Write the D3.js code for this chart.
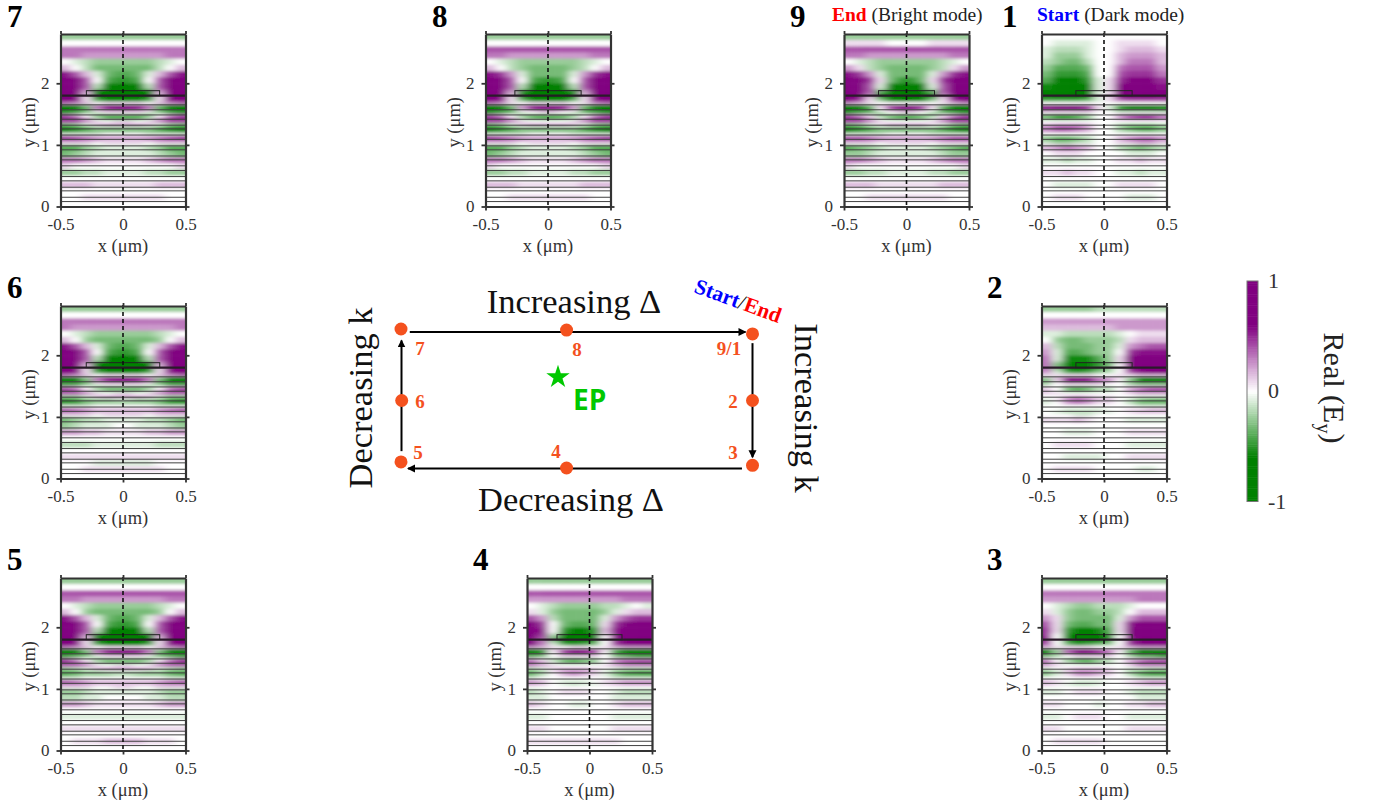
<!DOCTYPE html>
<html>
<head>
<meta charset="utf-8">
<script src="https://cdn.jsdelivr.net/npm/d3@7"></script>
<style>
	body { margin: 0; background: #fff; }
	text { font-family: "Liberation Serif", serif; }
</style>
</head>
<body>
<div id="chart"></div>
<script>
// band edges in y (um), shared by all the field maps
const yEdges = [2.8,2.7,2.6,2.5,2.4,2.3,2.2,2.1,2.0,1.9,1.85,1.8,1.75,1.7,1.65,1.6,1.55,1.5,1.45,1.4,1.35,1.3,1.25,1.2,1.15,1.1,1.05,1.0,0.9,0.8,0.7,0.6,0.5,0.4,0.3,0.2,0.1,0];
const layerLines = [0.08,0.15,0.254,0.313,0.416,0.486,0.584,0.66,0.757,0.82,0.92,0.984,1.09,1.16,1.26,1.32,1.416,1.486,1.57,1.65];
const activeLayer = 1.8;
const gratingTop = 1.88;
const xTicks = [-0.5,0,0.5];
const yTicks = [0,1,2];
const colorTicks = [1,0,-1];

// Real(Ey) in tenths, rows top to bottom, columns from x=0 out to the edge
const field7 = [[-3,-3,-3,-3,-3,-3],[0,0,0,0,0,0],[4,4,4,4,4,4],[3,3,3,3,4,4],[-3,-3,-3,-2,-1,0],[-4,-4,-4,-2,0,2],[-5,-4,-1,2,5,7],[-6,-5,0,5,9,10],[-9,-8,-2,5,9,10],
	[-10,-10,-7,3,10,10],[-10,-10,-8,2,10,10],[-10,-10,-8,1,9,10],[-7,-7,-5,1,8,9],[1,1,0,2,3,4],[8,8,5,-4,-9,-10],[7,6,3,-5,-9,-10],[1,1,-1,-3,-5,-6],[-5,-5,-4,0,3,5],[-5,-5,-2,3,7,8],[1,0,1,3,5,5],[3,3,2,-1,-3,-4],[-3,-3,-3,-5,-7,-8],[-4,-4,-4,-5,-6,-7],[0,0,-1,-1,-1,-1],[3,3,3,4,5,6],[2,2,3,4,5,5],[1,1,0,1,1,1],
	[-1,-1,-2,-3,-5,-5],[-1,-1,-1,-2,-3,-4],[1,1,2,3,4,4],[0,0,0,0,0,1],[-1,-1,-2,-2,-3,-3],[0,0,0,0,0,0],[1,1,1,2,2,2],[0,0,0,0,0,0],[1,1,1,1,0,0],[0,0,0,0,0,0]];
const field8 = [[-3,-3,-3,-3,-3,-3],[0,0,0,0,0,0],[5,5,5,5,5,5],[3,3,3,3,4,4],[-3,-3,-3,-2,-1,0],[-4,-4,-3,-2,0,2],[-4,-4,-1,3,6,7],[-6,-5,0,5,9,10],[-9,-8,-2,5,9,10],
	[-10,-10,-6,3,9,10],[-10,-10,-7,2,9,10],[-10,-10,-7,1,8,10],[-7,-7,-4,1,7,9],[1,1,0,1,3,4],[8,7,4,-4,-9,-10],[7,6,2,-5,-9,-10],[1,0,-1,-4,-5,-6],[-5,-5,-3,0,3,5],[-5,-4,-2,3,7,8],[0,0,1,3,5,5],[3,3,2,-1,-3,-4],[-3,-3,-3,-5,-7,-8],[-4,-4,-4,-5,-6,-7],[0,0,-1,-1,-1,-1],[3,3,3,4,5,6],[2,2,3,4,5,5],[1,1,0,1,1,1],
	[-1,-1,-2,-3,-5,-5],[-1,-1,-1,-2,-3,-4],[1,1,2,3,4,4],[0,0,0,0,0,1],[-1,-1,-2,-2,-3,-3],[0,0,0,0,0,0],[1,1,1,2,2,2],[0,0,0,0,0,0],[1,1,1,1,0,0],[0,0,0,0,0,0]];
const field9 = [[-3,-3,-3,-3,-3,-3],[0,0,1,1,1,1],[5,5,5,5,5,5],[3,3,3,3,4,4],[-3,-3,-3,-2,-1,0],[-4,-4,-3,-2,1,3],[-4,-4,-1,3,6,7],[-6,-4,1,6,9,10],[-9,-8,-1,5,9,10],
	[-10,-10,-4,5,9,10],[-10,-10,-6,4,9,10],[-10,-10,-6,2,8,10],[-8,-7,-3,1,6,8],[0,0,0,1,2,3],[8,6,2,-4,-8,-9],[7,5,0,-6,-9,-10],[1,0,-2,-4,-5,-6],[-5,-4,-3,1,3,5],[-5,-4,-1,3,7,8],[0,0,1,3,5,5],[3,3,1,-1,-3,-4],[-3,-3,-3,-5,-7,-8],[-4,-4,-4,-5,-6,-7],[0,0,-1,-1,-1,-1],[3,3,3,4,5,5],[2,2,3,4,5,5],[1,1,0,1,1,1],
	[-1,-1,-2,-3,-4,-5],[-1,-1,-1,-2,-3,-3],[1,1,2,3,4,4],[0,0,0,0,0,1],[-1,-1,-2,-2,-3,-3],[0,0,0,0,0,0],[1,1,1,2,2,2],[0,0,0,0,0,0],[1,1,1,1,0,0],[0,0,0,0,0,0]];
const field6 = [[-3,-3,-3,-3,-3,-3],[0,0,0,0,0,0],[4,4,4,4,4,4],[3,3,3,3,3,4],[-3,-3,-3,-2,-1,0],[-4,-4,-4,-3,0,2],[-5,-4,-1,2,5,7],[-6,-5,0,5,8,10],[-9,-8,-2,5,9,10],
	[-10,-10,-7,3,9,10],[-10,-10,-8,2,9,10],[-10,-10,-8,1,8,10],[-7,-7,-5,1,7,9],[1,1,0,2,3,4],[8,8,5,-3,-8,-9],[7,6,3,-5,-9,-10],[1,1,-1,-3,-5,-5],[-4,-4,-3,0,3,4],[-4,-4,-2,2,6,7],[1,0,1,3,4,4],[3,3,2,-1,-3,-3],[-2,-3,-3,-4,-6,-7],[-3,-3,-3,-4,-6,-6],[0,0,0,-1,-1,-1],[2,2,2,3,4,5],[2,2,2,3,4,4],[1,1,0,1,1,1],
	[-1,-1,-2,-2,-3,-4],[0,-1,-1,-1,-2,-3],[1,1,2,2,3,3],[0,0,0,0,0,0],[-1,-1,-1,-2,-2,-2],[0,0,0,0,0,0],[1,1,1,1,1,1],[-1,-1,-1,0,0,0],[1,1,1,1,0,0],[0,0,0,0,0,0]];
const field5 = [[-3,-3,-3,-3,-3,-3],[0,0,0,0,0,0],[5,5,5,5,5,5],[3,3,3,3,4,4],[-3,-3,-3,-2,-1,0],[-4,-4,-4,-3,0,2],[-5,-4,-1,2,5,7],[-6,-5,0,5,9,10],[-9,-8,-2,5,9,10],
	[-10,-10,-7,3,9,10],[-10,-10,-8,2,9,10],[-10,-10,-8,1,8,10],[-7,-7,-5,1,7,9],[1,1,0,2,3,4],[8,8,5,-3,-8,-10],[7,6,3,-5,-9,-10],[1,1,-1,-3,-4,-5],[-4,-4,-3,0,3,5],[-4,-4,-2,3,6,8],[1,0,1,3,4,4],[3,3,2,-1,-2,-3],[-2,-2,-3,-3,-5,-5],[-2,-3,-3,-3,-4,-5],[0,0,0,0,-1,-1],[2,2,2,3,4,5],[2,2,2,3,4,4],[1,0,0,1,1,1],
	[-1,-1,-1,-2,-3,-3],[0,0,-1,-1,-2,-2],[1,1,1,2,3,3],[0,0,0,0,0,0],[-1,-1,-1,-1,-1,-1],[0,0,0,0,0,0],[1,1,1,1,1,1],[0,0,0,0,0,0],[2,2,1,1,1,0],[0,0,0,0,0,0]];
const field4Left = [[-3,-3,-3,-3,-3,-3],[0,0,0,0,0,0],[5,5,5,5,5,5],[3,3,3,3,3,3],[-3,-3,-3,-2,-1,0],[-4,-4,-4,-3,-1,1],[-4,-4,-4,-2,3,5],[-5,-5,-4,0,6,8],[-8,-8,-6,0,7,8],
	[-9,-10,-9,-2,6,9],[-10,-10,-10,-4,5,9],[-9,-9,-8,-3,4,8],[-5,-6,-5,-1,4,8],[1,1,0,1,2,3],[7,8,6,1,-6,-9],[7,8,5,0,-7,-10],[1,1,1,0,-3,-4],[-4,-5,-4,-2,1,3],[-4,-5,-4,-1,3,6],[0,0,0,1,2,3],[2,2,2,1,-1,-2],[3,4,3,1,-3,-5],[2,3,2,0,-2,-4],[0,0,0,0,0,-1],[-1,-1,-1,0,2,3],[-1,-2,-1,0,2,3],[0,0,0,0,0,0],
	[1,1,1,0,-1,-2],[0,0,0,0,-1,-1],[-1,-1,0,0,1,2],[0,0,0,0,0,0],[0,0,0,0,-1,-1],[0,0,0,0,0,0],[0,0,0,0,1,1],[0,0,0,0,0,0],[1,1,1,1,1,1],[0,0,0,0,0,0]];
const field4Right = [[-3,-3,-3,-3,-3,-3],[0,0,0,0,0,0],[5,5,5,5,5,5],[3,3,3,4,4,4],[-3,-2,-2,-1,0,-1],[-4,-3,-1,1,2,2],[-4,-1,3,5,6,6],[-4,1,6,8,8,8],[-6,2,7,9,9,9],
	[-7,1,7,9,10,10],[-8,0,7,9,10,10],[-6,0,6,9,10,10],[-4,0,6,9,9,9],[0,1,2,3,3,3],[6,1,-5,-8,-9,-9],[5,0,-6,-9,-10,-10],[1,0,-3,-4,-5,-5],[-3,0,3,4,4,4],[-3,0,4,6,7,7],[0,1,2,3,3,3],[1,0,-1,-2,-2,-2],[2,-1,-4,-5,-6,-6],[1,-1,-3,-5,-5,-5],[0,0,-1,-1,-1,-1],[0,1,2,3,3,3],[-1,1,2,3,3,3],[0,0,0,0,0,0],
	[0,0,-1,-2,-2,-2],[0,0,-1,-1,-1,-1],[0,0,1,2,2,2],[0,0,0,0,0,0],[0,0,-1,-1,-1,-1],[0,0,0,0,0,0],[0,0,1,1,1,1],[0,0,0,0,0,0],[1,1,1,0,0,0],[0,0,0,0,0,0]];
const field3Left = [[-3,-3,-3,-3,-3,-3],[0,0,0,0,0,0],[4,4,4,4,4,4],[3,3,3,3,3,3],[-2,-3,-3,-2,-1,0],[-3,-4,-4,-3,-1,1],[-4,-4,-4,-3,1,3],[-4,-5,-5,-4,1,5],[-7,-8,-8,-6,1,6],
	[-8,-10,-10,-7,0,6],[-9,-10,-10,-8,0,7],[-7,-9,-9,-6,0,6],[-4,-5,-6,-4,0,5],[0,1,1,1,1,2],[6,8,9,5,-3,-7],[6,8,8,4,-3,-8],[1,1,1,0,-2,-3],[-3,-5,-5,-3,0,3],[-3,-5,-4,-2,1,5],[0,0,0,0,1,2],[2,2,2,1,0,-1],[3,4,4,2,-2,-4],[2,3,3,1,-1,-3],[0,0,0,0,0,0],[-1,-1,-1,0,1,2],[-1,-2,-2,-1,1,2],[0,0,0,0,0,0],
	[1,1,1,0,-1,-1],[0,0,0,0,0,0],[-1,0,0,0,1,1],[0,0,0,0,0,0],[1,1,1,0,-1,-1],[0,0,0,0,0,0],[0,0,0,0,1,1],[0,0,0,0,0,0],[1,1,1,1,1,0],[0,0,0,0,0,0]];
const field3Right = [[-3,-3,-3,-3,-3,-3],[0,0,0,0,0,0],[4,4,4,4,4,4],[3,3,3,4,4,4],[-2,-2,-1,0,0,0],[-3,-2,0,2,2,2],[-4,-1,3,5,5,5],[-4,1,7,8,8,8],[-5,1,8,9,9,9],
	[-6,0,8,10,10,10],[-7,0,7,9,10,10],[-5,0,6,9,10,10],[-3,0,6,8,8,8],[0,1,2,3,3,3],[4,1,-4,-8,-9,-9],[4,0,-5,-9,-10,-10],[1,0,-2,-4,-4,-5],[-2,0,2,3,4,4],[-2,0,3,6,7,7],[0,0,1,3,3,3],[1,0,-1,-1,-2,-2],[2,0,-3,-5,-6,-6],[1,0,-2,-4,-5,-5],[0,0,0,-1,-1,-1],[0,0,1,2,3,3],[0,0,1,2,3,3],[0,0,0,0,0,0],
	[0,0,-1,-2,-2,-2],[0,0,0,-1,-1,-1],[0,0,1,1,2,2],[0,0,0,0,0,0],[0,0,-1,-1,-1,-1],[0,0,0,0,0,0],[0,0,1,1,1,1],[0,0,0,0,0,0],[0,0,0,0,0,0],[0,0,0,0,0,0]];
const field2Left = [[-2,-3,-3,-3,-3,-3],[0,0,0,0,0,0],[3,3,3,3,3,3],[2,2,2,2,2,2],[-2,-2,-2,-2,-1,-1],[-3,-3,-4,-4,-3,0],[-3,-4,-4,-4,-2,2],[-3,-4,-5,-5,-1,3],[-5,-7,-7,-7,-1,4],
	[-6,-9,-9,-9,-3,4],[-6,-10,-10,-10,-4,4],[-5,-8,-9,-8,-3,4],[-3,-5,-6,-5,-1,3],[0,1,1,1,1,1],[4,8,9,8,2,-3],[4,7,8,7,1,-4],[1,1,1,1,0,-2],[-2,-4,-5,-4,0,1],[-2,-4,-5,-4,0,2],[0,0,0,0,1,1],[1,2,3,2,0,0],[2,4,5,4,1,-1],[1,3,4,3,0,-1],[0,0,0,0,0,0],[-1,-1,-1,-1,0,0],[-1,-2,-2,-2,-1,0],[0,-1,-1,0,0,0],
	[0,1,2,1,1,1],[0,0,0,0,0,0],[0,-1,-1,-1,0,0],[0,0,0,0,0,0],[0,1,1,1,1,0],[0,0,0,0,0,0],[-1,-1,-1,-1,0,0],[0,0,0,0,0,0],[0,1,1,1,1,0],[0,0,0,0,0,0]];
const field2Right = [[-2,-2,-2,-2,-2,-2],[0,0,0,0,0,0],[3,3,3,3,3,3],[2,3,3,3,3,3],[-2,-1,0,1,1,1],[-3,-2,1,2,2,2],[-3,-1,3,4,5,5],[-3,0,6,7,7,7],[-3,1,8,9,9,9],
	[-4,1,8,10,10,10],[-4,0,8,10,10,10],[-3,0,7,9,10,9],[-2,0,5,7,8,8],[0,1,1,2,2,2],[3,1,-3,-7,-8,-8],[3,0,-4,-8,-9,-9],[0,0,-2,-3,-3,-3],[-2,0,2,3,4,4],[-2,0,3,5,6,6],[0,0,1,2,2,2],[1,0,0,-1,-1,-1],[2,0,-2,-4,-5,-5],[1,0,-2,-4,-4,-4],[0,0,0,-1,-1,-1],[0,0,1,1,2,2],[-1,0,1,2,2,2],[0,0,0,0,0,0],
	[0,0,-1,-1,-1,-1],[0,0,0,0,0,0],[0,0,1,1,1,1],[0,0,0,0,0,0],[0,0,-1,-1,-1,-1],[0,0,0,0,0,0],[0,0,1,1,1,1],[0,0,0,0,0,0],[0,0,0,-1,-1,0],[0,0,0,0,0,0]];
const field1Left = [[0,0,0,0,0,0],[0,-1,-1,-1,-1,0],[0,-1,-2,-2,-2,-1],[0,-1,-3,-3,-3,-1],[0,-2,-4,-4,-3,-2],[0,-4,-5,-5,-5,-3],[0,-5,-6,-6,-6,-4],[-1,-6,-8,-8,-8,-5],[-1,-8,-10,-10,-10,-7],
	[-1,-9,-10,-10,-10,-8],[-1,-9,-10,-10,-10,-8],[-1,-7,-9,-9,-9,-7],[-1,-4,-5,-5,-5,-5],[0,0,0,0,0,0],[1,6,8,9,9,7],[1,6,8,9,9,7],[0,1,1,1,1,1],[0,-3,-5,-6,-6,-4],[0,-3,-5,-6,-6,-4],[0,0,0,0,0,0],[0,2,3,3,3,2],[0,3,5,6,6,4],[0,2,3,4,4,3],[0,0,0,0,0,0],[0,-2,-3,-4,-4,-3],[0,-2,-4,-5,-5,-3],[0,-1,-1,-2,-2,-1],
	[0,2,3,4,3,2],[0,0,1,1,1,0],[0,-1,-1,-2,-1,-1],[0,0,0,0,0,0],[0,1,1,2,1,1],[0,0,0,0,0,0],[0,-1,-1,-1,-1,0],[0,0,0,0,0,0],[0,0,1,1,1,0],[0,0,0,0,0,0]];
const field1Right = [[0,0,0,0,0,0],[0,1,1,1,1,0],[0,1,2,2,2,1],[0,2,3,3,3,2],[0,2,4,4,4,2],[0,4,5,5,5,3],[0,5,6,6,6,4],[1,6,8,8,8,6],[1,8,10,10,10,7],
	[1,9,10,10,10,8],[1,9,10,10,10,8],[1,7,9,9,9,7],[1,4,5,5,5,5],[0,0,0,0,0,0],[-1,-6,-8,-9,-9,-7],[-1,-6,-8,-9,-9,-7],[0,-1,-1,-1,-1,-1],[0,3,5,6,6,4],[0,3,5,6,6,4],[0,0,0,0,0,0],[0,-2,-3,-3,-3,-2],[0,-3,-5,-6,-6,-4],[0,-2,-3,-4,-4,-3],[0,0,0,0,0,0],[0,2,3,4,4,3],[0,2,4,5,5,3],[0,1,1,2,2,1],
	[0,-2,-3,-4,-3,-2],[0,0,-1,-1,-1,0],[0,1,1,2,1,1],[0,0,0,0,0,0],[0,-1,-1,-2,-1,-1],[0,0,0,0,0,0],[0,1,1,1,1,0],[0,0,0,0,0,0],[0,0,-1,-1,-1,0],[0,0,0,0,0,0]];

const panelLabels = ["1","2","3","4","5","6","7","8","9"];
const panelLeftFields = [field1Left,field2Left,field3Left,field4Left,field5,field6,field7,field8,field9];
const panelRightFields = [field1Right,field2Right,field3Right,field4Right,field5,field6,field7,field8,field9];
const gratingHalfWidths = [0.225,0.225,0.225,0.26,0.294,0.294,0.293,0.265,0.224];

const pathLabels = ["7","8","9/1","6","2","5","4","3"];

var width = 1382,
	height = 808,
	panelW = 125,
	panelH = 172.5;

// panel frame corners, same order as panelLabels
const panelX = [1041.5,1041.5,1041.5,527,60.5,60.5,60.5,485.5,844];
const panelY = [34,306,578,578,578,306,34,34,34];
const numberX = [1002,987,987,473,7,7,7,432,790];
const numberY = [27,298,570,570,570,298,27,27,27];

const svg = d3.select("#chart")
	.append("svg")
	.attr("width", width)
	.attr("height", height)
	.style("display", "block");

const defs = svg.append("defs");

defs.append("filter")
	.attr("id", "smooth")
	.attr("x", "-10%").attr("y", "-10%")
	.attr("width", "120%").attr("height", "120%")
	.append("feGaussianBlur")
	.attr("stdDeviation", "4 1.5");

defs.append("marker")
	.attr("id", "head")
	.attr("markerUnits", "userSpaceOnUse")
	.attr("markerWidth", 10).attr("markerHeight", 10)
	.attr("refX", 7).attr("refY", 4)
	.attr("orient", "auto")
	.append("path")
	.attr("d", "M0,0L8,4L0,8Z")
	.attr("fill", "#000");

const colorScale = d3.scaleLinear()
	.domain([-1,-0.6,0,0.6,1])
	.range(["#008000","#008000","#ffffff","#800080","#800080"]);

const xScale = d3.scaleLinear().domain([-0.5,0.5]).range([0,panelW]);
const yScale = d3.scaleLinear().domain([0,2.8]).range([panelH,0]);
const colScale = d3.scaleBand().domain(d3.range(12)).range([0,panelW]);

panelLabels.forEach((label, p) => {
	const g = svg.append("g").attr("transform", `translate(${panelX[p]},${panelY[p]})`);

	defs.append("clipPath").attr("id", "clip" + p)
		.append("rect").attr("width", panelW).attr("height", panelH);

	const map = g.append("g").attr("clip-path", `url(#clip${p})`)
		.append("g").attr("filter", "url(#smooth)");

	const left = panelLeftFields[p], right = panelRightFields[p];
	left.forEach((row, r) => {
		const cells = row.slice().reverse().concat(right[r]);
		map.selectAll(null)
			.data(cells)
			.enter()
			.append("rect")
			.attr("x", (d, i) => colScale(i) - (i == 0 ? 12 : 0))
			.attr("y", yScale(yEdges[r]) - (r == 0 ? 8 : 0))
			.attr("width", (d, i) => colScale.bandwidth() + (i == 0 || i == 11 ? 12 : 0.5))
			.attr("height", yScale(yEdges[r+1]) - yScale(yEdges[r]) + (r == 0 || r == left.length-1 ? 8 : 0.5))
			.attr("fill", d => colorScale(d / 10 * 0.8));
	});

	// layer stack
	g.selectAll("line.layer")
		.data(layerLines)
		.enter()
		.append("line")
		.attr("x1", 0).attr("x2", panelW)
		.attr("y1", d => yScale(d)).attr("y2", d => yScale(d))
		.attr("stroke", "#404040")
		.attr("stroke-width", 1);

	g.append("line")
		.attr("x1", 0).attr("x2", panelW)
		.attr("y1", yScale(activeLayer)).attr("y2", yScale(activeLayer))
		.attr("stroke", "#2a1a2a")
		.attr("stroke-width", 2.2);

	g.append("rect")
		.attr("x", xScale(-gratingHalfWidths[p]))
		.attr("y", yScale(gratingTop))
		.attr("width", xScale(gratingHalfWidths[p]) - xScale(-gratingHalfWidths[p]))
		.attr("height", yScale(activeLayer) - yScale(gratingTop))
		.attr("fill", "none")
		.attr("stroke", "#222")
		.attr("stroke-width", 1);

	g.append("line")
		.attr("x1", xScale(0)).attr("x2", xScale(0))
		.attr("y1", -1).attr("y2", panelH + 1)
		.attr("stroke", "#111")
		.attr("stroke-width", 1.6)
		.attr("stroke-dasharray", "4 3");

	// axes on all four sides, labels only on left and bottom
	const axes = [
		d3.axisBottom(xScale).tickValues(xTicks).tickFormat(d => d).tickSize(4).tickPadding(7.5),
		d3.axisLeft(yScale).tickValues(yTicks).tickFormat(d => d).tickSize(4).tickPadding(7),
		d3.axisTop(xScale).tickValues(xTicks).tickFormat("").tickSize(3),
		d3.axisRight(yScale).tickValues(yTicks).tickFormat("").tickSize(4)
	];
	const spots = [[0,panelH],[0,0],[0,0],[panelW,0]];
	axes.forEach((axis, i) => {
		const a = g.append("g")
			.attr("transform", `translate(${spots[i][0]},${spots[i][1]})`)
			.call(axis.tickSizeOuter(0));
		a.select(".domain").attr("stroke", "#333").attr("stroke-width", 2.2);
		a.selectAll(".tick line").attr("stroke", "#333").attr("stroke-width", 1.8);
		a.selectAll(".tick text")
			.attr("fill", "#333")
			.style("font-family", "'Liberation Serif', serif")
			.style("font-size", "17px");
	});

	g.append("text")
		.attr("x", panelW / 2)
		.attr("y", panelH + 45)
		.attr("text-anchor", "middle")
		.attr("fill", "#333")
		.style("font-size", "18.5px")
		.text("x (μm)");

	g.append("text")
		.attr("transform", `translate(-26,${panelH / 2 + 2}) rotate(-90)`)
		.attr("text-anchor", "middle")
		.attr("fill", "#333")
		.style("font-size", "18.5px")
		.text("y (μm)");

	svg.append("text")
		.attr("x", numberX[p])
		.attr("y", numberY[p])
		.attr("font-weight", "bold")
		.style("font-size", "31px")
		.text(label);
});

// titles over panels 9 and 1
const title9 = svg.append("text").attr("x", 832).attr("y", 21).style("font-size", "19.5px");
title9.append("tspan").attr("fill", "#f00").attr("font-weight", "bold").text("End");
title9.append("tspan").attr("fill", "#222").text(" (Bright mode)");
const title1 = svg.append("text").attr("x", 1037).attr("y", 21).style("font-size", "19.5px");
title1.append("tspan").attr("fill", "#00f").attr("font-weight", "bold").text("Start");
title1.append("tspan").attr("fill", "#222").text(" (Dark mode)");

// loop diagram in the centre
const orange = "#f4511e";
const loopX = d3.scaleLinear().domain([0,1]).range([401,752.5]);
const loopY = d3.scaleLinear().domain([0,1]).range([331,466]);
const arrows = [[0.025,0,0.98,0],[1,0.09,1,0.935],[0.97,1,0.02,1],[0,0.89,0,0.07]];
const arrowShift = [[0,1],[0,0],[0,2.5],[0.5,0]];
svg.append("g").selectAll("line")
	.data(arrows)
	.enter()
	.append("line")
	.attr("x1", (d,i) => loopX(d[0]) + arrowShift[i][0])
	.attr("y1", (d,i) => loopY(d[1]) + arrowShift[i][1])
	.attr("x2", (d,i) => loopX(d[2]) + arrowShift[i][0])
	.attr("y2", (d,i) => loopY(d[3]) + arrowShift[i][1])
	.attr("stroke", "#000")
	.attr("stroke-width", 2)
	.attr("marker-end", "url(#head)");

const dotX = [0,0.471,1,0.002,1,0,0.471,1];
const dotY = [-0.015,-0.007,0.022,0.515,0.515,0.97,1.015,0.995];
svg.append("g").selectAll("circle")
	.data(dotX)
	.enter()
	.append("circle")
	.attr("cx", d => loopX(d))
	.attr("cy", (d,i) => loopY(dotY[i]))
	.attr("r", 6.5)
	.attr("fill", orange);

const labelX = [420,577,729,420,733,418,556,733];
const labelY = [355,356,355,408,408,459,458,459];
svg.append("g").selectAll("text")
	.data(pathLabels)
	.enter()
	.append("text")
	.attr("x", (d,i) => labelX[i])
	.attr("y", (d,i) => labelY[i])
	.attr("text-anchor", "middle")
	.attr("font-weight", "bold")
	.attr("fill", orange)
	.style("font-size", "19px")
	.text(d => d);

const sideTexts = ["Increasing Δ","Decreasing Δ","Decreasing k","Increasing k"];
const sideTransforms = ["translate(574,313)","translate(571,511)","translate(372,398) rotate(-90)","translate(795,408) rotate(90)"];
svg.append("g").selectAll("text")
	.data(sideTexts)
	.enter()
	.append("text")
	.attr("transform", (d,i) => sideTransforms[i])
	.attr("text-anchor", "middle")
	.attr("fill", "#111")
	.style("font-size", "34.5px")
	.text(d => d);

const startEnd = svg.append("text")
	.attr("transform", "translate(693,292) rotate(20)")
	.attr("font-weight", "bold")
	.style("font-size", "21.5px");
startEnd.append("tspan").attr("fill", "#00f").text("Start");
startEnd.append("tspan").attr("fill", "#000").attr("font-weight", "normal").text("/");
startEnd.append("tspan").attr("fill", "#f00").text("End");

svg.append("path")
	.attr("d", d3.symbol(d3.symbolStar, 170))
	.attr("transform", "translate(558,377)")
	.attr("fill", "#00c800");

svg.append("text")
	.attr("x", 573).attr("y", 410)
	.attr("font-weight", "bold")
	.attr("fill", "#00c800")
	.style("font-family", "'Open Sans', sans-serif")
	.style("font-size", "28px")
	.text("EP");

// colour bar
const barScale = d3.scaleLinear().domain([-1,1]).range([501.5,281]);
const barSteps = d3.range(-1, 1, 0.02);
svg.append("g").selectAll("rect")
	.data(barSteps)
	.enter()
	.append("rect")
	.attr("x", 1247)
	.attr("y", d => barScale(d + 0.02))
	.attr("width", 11)
	.attr("height", d => barScale(d) - barScale(d + 0.02) + 0.5)
	.attr("fill", d => colorScale(d + 0.01));
svg.append("rect")
	.attr("x", 1247).attr("y", 281)
	.attr("width", 11).attr("height", 220.5)
	.attr("fill", "none")
	.attr("stroke", "#777")
	.attr("stroke-width", 1);

svg.append("g").selectAll("text")
	.data(colorTicks)
	.enter()
	.append("text")
	.attr("x", 1268)
	.attr("y", d => barScale(d) + 7)
	.attr("fill", "#333")
	.style("font-size", "22px")
	.text(d => d);

const barTitle = svg.append("text")
	.attr("transform", "translate(1324,388) rotate(90)")
	.attr("text-anchor", "middle")
	.attr("fill", "#222")
	.style("font-size", "30px");
barTitle.append("tspan").text("Real (E");
barTitle.append("tspan").attr("dy", 7).style("font-size", "20px").text("y");
barTitle.append("tspan").attr("dy", -7).text(")");
</script>
</body>
</html>
